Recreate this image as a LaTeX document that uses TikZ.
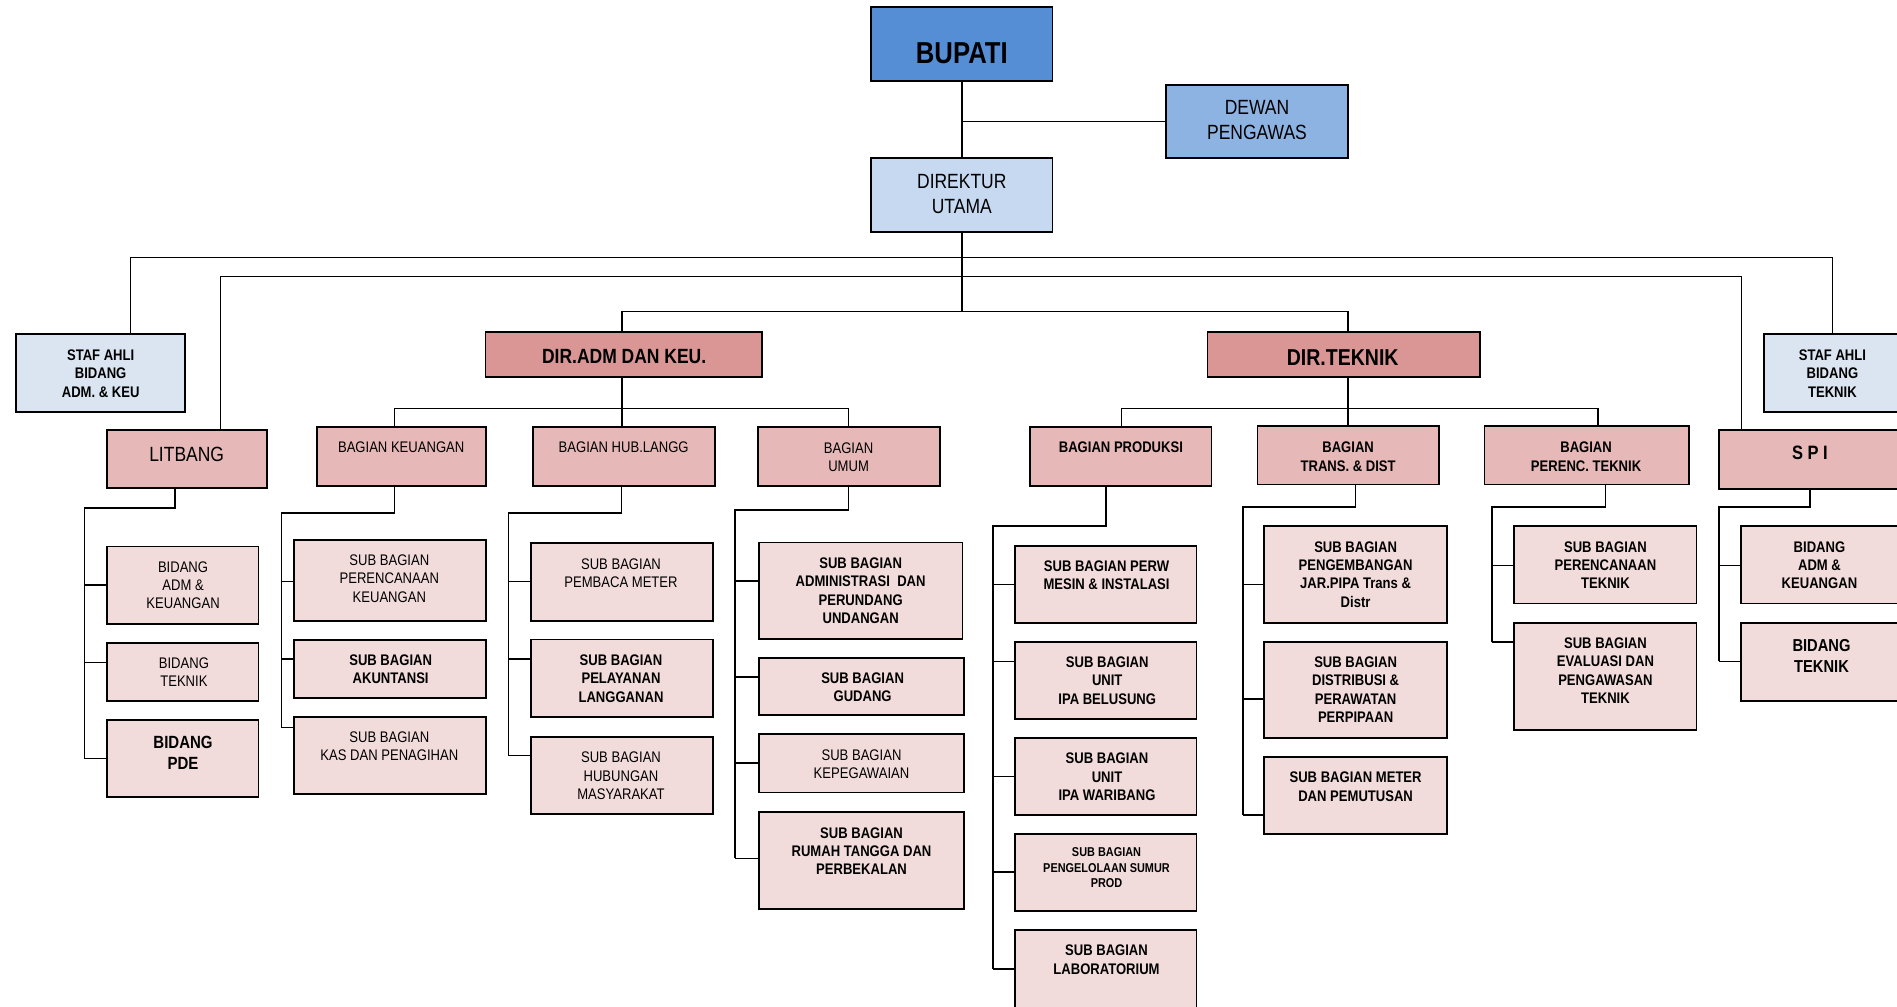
\documentclass[tikz,border=0pt]{standalone}
\usepackage{fontspec}
\setmainfont{Liberation Sans}[FakeStretch=0.85]
\usetikzlibrary{fit}
\definecolor{cBup}{HTML}{558ED5}
\definecolor{cDew}{HTML}{8DB3E2}
\definecolor{cDir}{HTML}{C6D9F0}
\definecolor{cStaf}{HTML}{DBE5F1}
\definecolor{cDrk}{HTML}{D99694}
\definecolor{cBag}{HTML}{E6B8B7}
\definecolor{cSub}{HTML}{F2DCDB}
\tikzset{
  box/.style={draw=black, line width=1.5pt, inner sep=0pt, outer sep=0pt, rectangle},
  ln/.style={draw=black, line width=1.3pt},
  tx/.style={inner sep=0pt, outer sep=0pt, align=center, anchor=center},
  r17/.style={tx, font=\fontsize{17}{20.6}\selectfont},
  b25/.style={tx, font=\bfseries\fontsize{25}{30}\selectfont},
  b17/.style={tx, font=\bfseries\fontsize{17}{20.6}\selectfont},
  b19/.style={tx, font=\bfseries\fontsize{19}{23}\selectfont},
  b16/.style={tx, font=\bfseries\fontsize{16}{19}\selectfont},
  r13/.style={tx, font=\fontsize{12.7}{15.2}\selectfont},
  b13/.style={tx, font=\bfseries\fontsize{12.7}{15.2}\selectfont},
  b15/.style={tx, font=\bfseries\fontsize{14.6}{17.4}\selectfont},
  b14/.style={tx, font=\bfseries\fontsize{14.3}{17}\selectfont},
  b11/.style={tx, font=\bfseries\fontsize{10.6}{12.8}\selectfont},
}
% name, corner1, corner2, fill, text style, text centre, text
\newcommand\obx[7]{%
  \node[box, fill=#4, fit={(#2)(#3)}] (#1) {};
  \node[#5] (#1-t) at (#6) {#7};}
\begin{document}
\begin{tikzpicture}[x=1pt, y=-1pt]
\useasboundingbox (0,0) rectangle (1568,832);
\clip (0,0) rectangle (1568,832);
% ---------- top ----------
\obx{bupati}{720,6}{870,67}{cBup}{b25}{795,43.8}{BUPATI}
\obx{dewan}{964,70.3}{1114.3,130.6}{cDew}{r17}{1039,99.1}{DEWAN\\PENGAWAS}
\obx{dirut}{720,130.6}{870,191.8}{cDir}{r17}{795,160.5}{DIREKTUR\\UTAMA}
\obx{stafA}{13.5,276}{152.8,340.3}{cStaf}{b13}{83.2,308.6}{STAF AHLI\\BIDANG\\ADM. \& KEU}
\obx{stafT}{1458,276}{1571,340.3}{cStaf}{b13}{1514.6,308.6}{STAF AHLI\\BIDANG\\TEKNIK}
\obx{dirA}{401.3,274.7}{629.7,311.4}{cDrk}{b17}{515.9,294.3}{DIR.ADM DAN KEU.}
\obx{dirT}{998,274.7}{1223,311.4}{cDrk}{b19}{1109.8,295.9}{DIR.TEKNIK}
% ---------- bagian ----------
\obx{litbang}{88.2,355.4}{220.4,403.6}{cBag}{r17}{154.3,375.3}{LITBANG}
\obx{bKeu}{262,353}{401.8,401.5}{cBag}{r13}{331.6,370}{BAGIAN KEUANGAN}
\obx{bHub}{440.3,353}{591,401.5}{cBag}{r13}{515.5,370}{BAGIAN HUB.LANGG}
\obx{bUmum}{626.2,353}{777,401.5}{cBag}{r13}{701.4,377.9}{BAGIAN\\UMUM}
\obx{bProd}{851.6,353}{1001.4,401.5}{cBag}{b13}{926.5,370}{BAGIAN PRODUKSI}
\obx{bTrans}{1039.4,352.4}{1189.1,400.4}{cBag}{b13}{1114.3,377.5}{BAGIAN\\TRANS. \& DIST}
\obx{bPer}{1227,352.4}{1395.8,400.4}{cBag}{b13}{1311,377.5}{BAGIAN\\PERENC. TEKNIK}
\obx{spi}{1420.7,355.4}{1576,404.2}{cBag}{b16}{1496,374.7}{S~P~I}
% ---------- litbang column ----------
\obx{lbAdm}{88.2,451.7}{213.7,515.5}{cSub}{r13}{151.3,483.8}{BIDANG\\ADM \&\\KEUANGAN}
\obx{lbTek}{88.2,531.5}{213.7,579.3}{cSub}{r13}{152,555.7}{BIDANG\\TEKNIK}
\obx{lbPde}{88.2,595}{213.7,659}{cSub}{b15}{151.3,622.5}{BIDANG\\PDE}
% ---------- keuangan column ----------
\obx{kPer}{243,446.6}{401.5,513}{cSub}{r13}{321.8,478.3}{SUB BAGIAN\\PERENCANAAN\\KEUANGAN}
\obx{kAku}{243,529}{401.5,576.7}{cSub}{b13}{322.9,553}{SUB BAGIAN\\AKUNTANSI}
\obx{kKas}{243,592.4}{401.5,656}{cSub}{r13}{321.8,617}{SUB BAGIAN\\KAS DAN PENAGIHAN}
% ---------- hub column ----------
\obx{hBac}{438.8,448.8}{589,513}{cSub}{r13}{513.3,473.6}{SUB BAGIAN\\PEMBACA METER}
\obx{hPel}{438.8,528.6}{589,592.4}{cSub}{b13}{513.3,560.8}{SUB BAGIAN\\PELAYANAN\\LANGGANAN}
\obx{hHum}{438.8,609}{589,673}{cSub}{r13}{513.3,641.4}{SUB BAGIAN\\HUBUNGAN\\MASYARAKAT}
% ---------- umum column ----------
\obx{uAdm}{627.6,448.4}{795.6,527.9}{cSub}{b13}{711.4,488.3}{SUB BAGIAN\\ADMINISTRASI\ \ DAN\\PERUNDANG\\UNDANGAN}
\obx{uGud}{627.6,543.8}{797,591.3}{cSub}{b13}{713,568}{SUB BAGIAN\\GUDANG}
\obx{uPeg}{627.6,607}{797,655}{cSub}{r13}{712.1,631.7}{SUB BAGIAN\\KEPEGAWAIAN}
\obx{uRum}{627.6,671.5}{797,751.3}{cSub}{b13}{712.1,703.5}{SUB BAGIAN\\RUMAH TANGGA DAN\\PERBEKALAN}
% ---------- produksi column ----------
\obx{pMes}{839,451}{989,514.8}{cSub}{b13}{914.6,475.5}{SUB BAGIAN PERW\\MESIN \& INSTALASI}
\obx{pBel}{839,530.7}{989,594.3}{cSub}{b13}{915.2,562.4}{SUB BAGIAN\\UNIT\\IPA BELUSUNG}
\obx{pWar}{839,610}{989,673.7}{cSub}{b13}{915,642.1}{SUB BAGIAN\\UNIT\\IPA WARIBANG}
\obx{pSum}{839,689.4}{989,752.9}{cSub}{b11}{914.6,717.5}{SUB BAGIAN\\PENGELOLAAN SUMUR\\PROD}
\obx{pLab}{839,768.8}{989,836}{cSub}{b13}{914.6,793.3}{SUB BAGIAN\\LABORATORIUM}
% ---------- trans column ----------
\obx{tPeng}{1045,435}{1196,514.8}{cSub}{b13}{1120.5,474.7}{SUB BAGIAN\\PENGEMBANGAN\\JAR.PIPA Trans \&\\Distr}
\obx{tDis}{1045,530.7}{1196,610}{cSub}{b13}{1120.5,570}{SUB BAGIAN\\DISTRIBUSI \&\\PERAWATAN\\PERPIPAAN}
\obx{tMet}{1045,625.8}{1196,689.4}{cSub}{b13}{1120.5,650.4}{SUB BAGIAN METER\\DAN PEMUTUSAN}
% ---------- perenc column ----------
\obx{rPer}{1251.5,435}{1402.3,498.8}{cSub}{b13}{1327,467.1}{SUB BAGIAN\\PERENCANAAN\\TEKNIK}
\obx{rEva}{1251.5,514.8}{1402.3,603.5}{cSub}{b13}{1327,554.4}{SUB BAGIAN\\EVALUASI DAN\\PENGAWASAN\\TEKNIK}
% ---------- spi column ----------
\obx{sAdm}{1439,435}{1576,498.8}{cSub}{b13}{1503.9,467.1}{BIDANG\\ADM \&\\KEUANGAN}
\obx{sTek}{1439,514.8}{1576,579.3}{cSub}{b14}{1505.6,542}{BIDANG\\TEKNIK}
% ================= connectors =================
\draw[ln] (bupati.south) -- (dirut.north);
\draw[ln] (bupati.south |- dewan.west) -- (dewan.west);
\draw[ln] (dirut.south) -- (dirut.south |- 0,257.6);
\draw[ln] (stafA.north -| 107.7,0) -- (107.7,212.7) -- (1514.6,212.7) -- (stafT.north -| 1514.6,0);
\draw[ln] (litbang.north -| 182.3,0) -- (182.3,228.7) -- (1439.3,228.7) -- (spi.north -| 1439.3,0);
\draw[ln] (dirA.north -| 514,0) -- (514,257.6) -- (1114,257.6) -- (dirT.north -| 1114,0);
% dir adm
\draw[ln] (dirA.south -| 514,0) -- (bHub.north -| 514,0);
\draw[ln] (bKeu.north -| 326.2,0) -- (326.2,337.5) -- (701.4,337.5) -- (bUmum.north -| 701.4,0);
% dir teknik
\draw[ln] (dirT.south -| 1114,0) -- (bTrans.north -| 1114,0);
\draw[ln] (bProd.north -| 927,0) -- (927,337.5) -- (1321,337.5) -- (bPer.north -| 1321,0);
% litbang
\draw[ln] (litbang.south -| 144.7,0) -- (144.7,419.7) -- (70,419.7) -- (70,627);
\draw[ln] (70,483.7) -- (lbAdm.west |- 0,483.7);
\draw[ln] (70,547.5) -- (lbTek.west |- 0,547.5);
\draw[ln] (70,627) -- (lbPde.west |- 0,627);
% keuangan
\draw[ln] (bKeu.south -| 326.2,0) -- (326.2,424) -- (232.5,424) -- (232.5,601.3);
\draw[ln] (232.5,480.6) -- (kPer.west |- 0,480.6);
\draw[ln] (232.5,544.7) -- (kAku.west |- 0,544.7);
\draw[ln] (232.5,601.3) -- (kKas.west |- 0,601.3);
% hub
\draw[ln] (bHub.south -| 513.7,0) -- (513.7,424) -- (420.3,424) -- (420.3,624.4);
\draw[ln] (420.3,480.6) -- (hBac.west |- 0,480.6);
\draw[ln] (420.3,544.7) -- (hPel.west |- 0,544.7);
\draw[ln] (420.3,624.4) -- (hHum.west |- 0,624.4);
% umum
\draw[ln] (bUmum.south -| 701.4,0) -- (701.4,421.6) -- (607.7,421.6) -- (607.7,709.5);
\draw[ln] (607.7,480) -- (uAdm.west |- 0,480);
\draw[ln] (607.7,559.5) -- (uGud.west |- 0,559.5);
\draw[ln] (607.7,630.7) -- (uPeg.west |- 0,630.7);
\draw[ln] (607.7,709.5) -- (uRum.west |- 0,709.5);
% produksi
\draw[ln] (bProd.south -| 914,0) -- (914,435) -- (820.6,435) -- (820.6,800.7);
\draw[ln] (820.6,483.2) -- (pMes.west |- 0,483.2);
\draw[ln] (820.6,546.7) -- (pBel.west |- 0,546.7);
\draw[ln] (820.6,641.8) -- (pWar.west |- 0,641.8);
\draw[ln] (820.6,720.6) -- (pSum.west |- 0,720.6);
\draw[ln] (820.6,800.7) -- (pLab.west |- 0,800.7);
% trans
\draw[ln] (bTrans.south -| 1120.5,0) -- (1120.5,419.3) -- (1027.2,419.3) -- (1027.2,673.7);
\draw[ln] (1027.2,483.2) -- (tPeng.west |- 0,483.2);
\draw[ln] (1027.2,578) -- (tDis.west |- 0,578);
\draw[ln] (1027.2,673.7) -- (tMet.west |- 0,673.7);
% perenc
\draw[ln] (bPer.south -| 1327,0) -- (1327,419.3) -- (1233.1,419.3) -- (1233.1,530.7);
\draw[ln] (1233.1,467.3) -- (rPer.west |- 0,467.3);
\draw[ln] (1233.1,530.7) -- (rEva.west |- 0,530.7);
% spi
\draw[ln] (spi.south -| 1496,0) -- (1496,419.3) -- (1421,419.3) -- (1421,546.7);
\draw[ln] (1421,467.3) -- (sAdm.west |- 0,467.3);
\draw[ln] (1421,546.7) -- (sTek.west |- 0,546.7);
\end{tikzpicture}
\end{document}
